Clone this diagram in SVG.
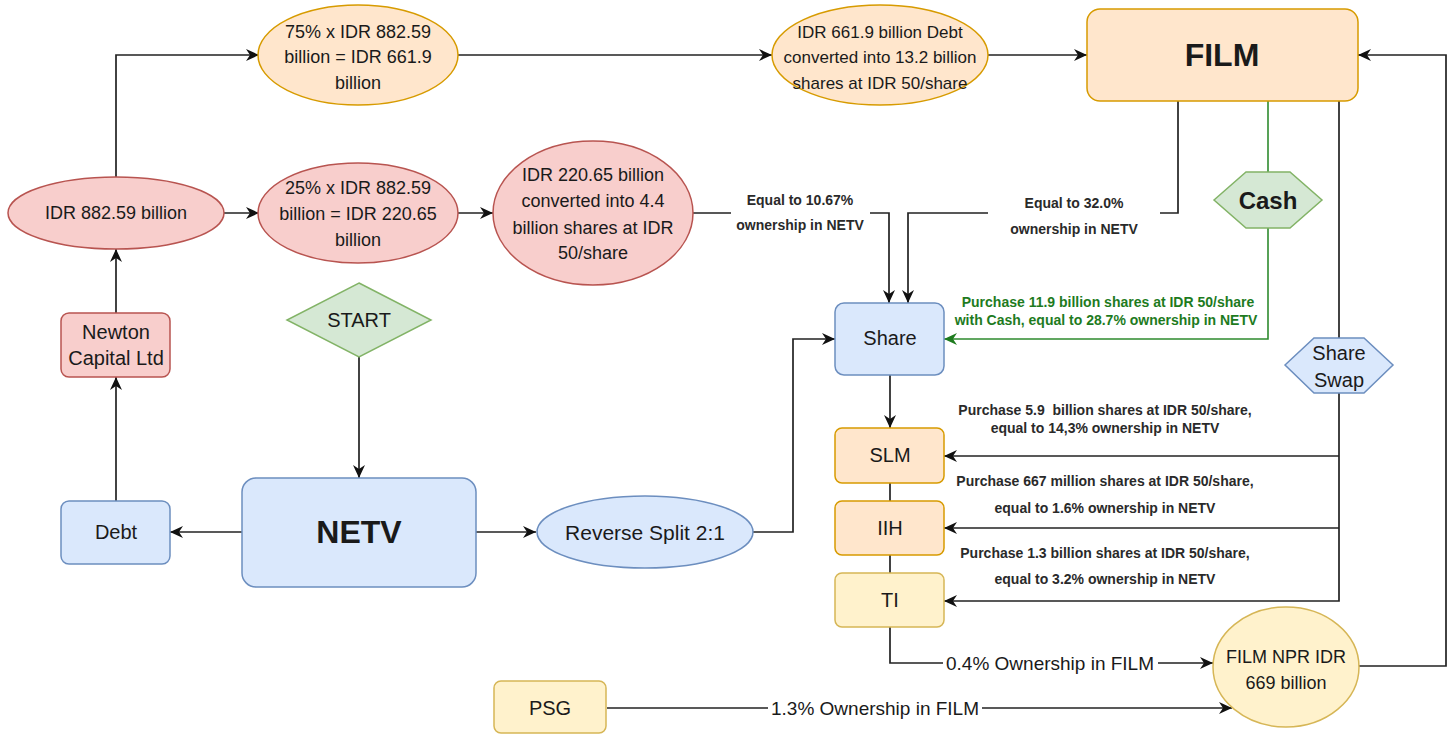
<svg xmlns="http://www.w3.org/2000/svg" width="1452" height="735" viewBox="0 0 1452 735">
<style>
text{font-family:"Liberation Sans",Arial,sans-serif;fill:#1a1a1a;text-anchor:middle;dominant-baseline:central;white-space:pre}
.red{fill:#f8cecc;stroke:#b85450;stroke-width:1.5}
.org{fill:#ffe6cc;stroke:#d79b00;stroke-width:1.5}
.yel{fill:#fff2cc;stroke:#d6b656;stroke-width:1.5}
.grn{fill:#d5e8d4;stroke:#82b366;stroke-width:1.5}
.blu{fill:#dae8fc;stroke:#6c8ebf;stroke-width:1.5}
.t18{font-size:18px}
.t17{font-size:17px}
.t20{font-size:20px}
.big{font-size:32px;font-weight:bold}
.lbl{font-size:14px;font-weight:bold;fill:#2a2a2a}
.glbl{font-size:14px;font-weight:bold;fill:#1e7b1e}
.olbl{font-size:19px}
.e{fill:none;stroke:#222;stroke-width:1.7}
.g{fill:none;stroke:#2e8b2e;stroke-width:1.6}
.bg{fill:#fff;stroke:none}
</style>
<defs>
<marker id="a" markerUnits="userSpaceOnUse" markerWidth="14" markerHeight="12" refX="13" refY="6" orient="auto"><path d="M0,0 L13,6 L0,12 L4,6 Z" fill="#111"/></marker>
<marker id="ag" markerUnits="userSpaceOnUse" markerWidth="14" markerHeight="12" refX="13" refY="6" orient="auto"><path d="M0,0 L13,6 L0,12 L4,6 Z" fill="#1e7b1e"/></marker>
</defs>
<rect width="1452" height="735" fill="#fff"/>

<g id="connectors">
<path class="e" d="M116,177 V55 H259" marker-end="url(#a)"/>
<path class="e" d="M224,213 H259" marker-end="url(#a)"/>
<path class="e" d="M458,213 H493" marker-end="url(#a)"/>
<path class="e" d="M458,55 H772" marker-end="url(#a)"/>
<path class="e" d="M988,55 H1087" marker-end="url(#a)"/>
<path class="e" d="M693,213 H889 V303" marker-end="url(#a)"/>
<path class="e" d="M1178,101 V213 H908 V303" marker-end="url(#a)"/>
<path class="g" d="M1268,101 V172"/>
<path class="g" d="M1268,228 V339 H944" marker-end="url(#ag)"/>
<path class="e" d="M890,375 V428" marker-end="url(#a)"/>
<path class="e" d="M890,483 V501"/>
<path class="e" d="M890,555 V573"/>
<path class="e" d="M1339,101 V338"/>
<path class="e" d="M1339,393 V601 H944" marker-end="url(#a)"/>
<path class="e" d="M1339,456 H944" marker-end="url(#a)"/>
<path class="e" d="M1339,528 H944" marker-end="url(#a)"/>
<path class="e" d="M1358,666 H1446 V55 H1358" marker-end="url(#a)"/>
<path class="e" d="M890,627 V663 H1213" marker-end="url(#a)"/>
<path class="e" d="M607,708 H1232" marker-end="url(#a)"/>
<path class="e" d="M359,357 V478" marker-end="url(#a)"/>
<path class="e" d="M242,532 H170" marker-end="url(#a)"/>
<path class="e" d="M116,501 V377" marker-end="url(#a)"/>
<path class="e" d="M116,313 V249" marker-end="url(#a)"/>
<path class="e" d="M476,532 H536" marker-end="url(#a)"/>
<path class="e" d="M753,532 H793 V339 H835" marker-end="url(#a)"/>

<rect class="bg" x="731" y="188" width="139" height="50"/>
<text class="lbl" x="800" y="200">Equal to 10.67%</text>
<text class="lbl" x="800" y="225">ownership in NETV</text>
<rect class="bg" x="988" y="190" width="172" height="52"/>
<text class="lbl" x="1074" y="203">Equal to 32.0%</text>
<text class="lbl" x="1074" y="229">ownership in NETV</text>
<text class="glbl" x="1108" y="302">Purchase 11.9 billion shares at IDR 50/share</text>
<text class="glbl" x="1106" y="320">with Cash, equal to 28.7% ownership in NETV</text>
<text class="lbl" x="1105" y="410" xml:space="preserve">Purchase 5.9  billion shares at IDR 50/share,</text>
<text class="lbl" x="1105" y="428">equal to 14,3% ownership in NETV</text>
<text class="lbl" x="1105" y="481">Purchase 667 million shares at IDR 50/share,</text>
<text class="lbl" x="1105" y="508">equal to 1.6% ownership in NETV</text>
<text class="lbl" x="1105" y="553">Purchase 1.3 billion shares at IDR 50/share,</text>
<text class="lbl" x="1105" y="579">equal to 3.2% ownership in NETV</text>
<rect class="bg" x="943" y="652" width="215" height="22"/>
<text class="olbl" x="1050" y="663">0.4% Ownership in FILM</text>
<rect class="bg" x="768" y="697" width="214" height="22"/>
<text class="olbl" x="875" y="708">1.3% Ownership in FILM</text>
</g>

<g id="n75"><ellipse class="org" cx="358" cy="55" rx="100" ry="50"/><text class="t18" x="358" y="32">75% x IDR 882.59</text><text class="t18" x="358" y="57">billion = IDR 661.9</text><text class="t18" x="358" y="83">billion</text></g>
<g id="n882"><ellipse class="red" cx="116" cy="213" rx="108" ry="36"/><text class="t18" x="116" y="213">IDR 882.59 billion</text></g>
<g id="n25"><ellipse class="red" cx="358" cy="213" rx="100" ry="50"/><text class="t18" x="358" y="188">25% x IDR 882.59</text><text class="t18" x="358" y="214">billion = IDR 220.65</text><text class="t18" x="358" y="240">billion</text></g>
<g id="n220"><ellipse class="red" cx="593" cy="213" rx="100" ry="72"/><text class="t18" x="593" y="175">IDR 220.65 billion</text><text class="t18" x="593" y="201">converted into 4.4</text><text class="t18" x="593" y="228">billion shares at IDR</text><text class="t18" x="593" y="253">50/share</text></g>
<g id="n661"><ellipse class="org" cx="880" cy="55" rx="108" ry="50"/><text class="t17" x="880" y="32">IDR 661.9 billion Debt</text><text class="t17" x="880" y="57">converted into 13.2 billion</text><text class="t17" x="880" y="83">shares at IDR 50/share</text></g>
<g id="film"><rect class="org" x="1087" y="9" width="271" height="92" rx="13"/><text class="big" x="1222" y="55">FILM</text></g>
<g id="cash"><polygon class="grn" points="1214,200 1246,172 1290,172 1322,200 1290,228 1246,228"/><text x="1268" y="200" style="font-size:24px;font-weight:bold">Cash</text></g>
<g id="swap"><polygon class="blu" points="1285,365 1314,338 1364,338 1393,365 1364,393 1314,393"/><text class="t20" x="1339" y="353">Share</text><text class="t20" x="1339" y="380">Swap</text></g>
<g id="newton"><rect class="red" x="61" y="313" width="109" height="64" rx="8"/><text class="t20" x="116" y="332">Newton</text><text class="t20" x="116" y="358">Capital Ltd</text></g>
<g id="start"><polygon class="grn" points="359,283 431,320 359,357 287,320"/><text class="t20" x="359" y="320">START</text></g>
<g id="debt"><rect class="blu" x="61" y="501" width="109" height="63" rx="8"/><text class="t20" x="116" y="532">Debt</text></g>
<g id="netv"><rect class="blu" x="242" y="478" width="234" height="109" rx="14"/><text class="big" x="359" y="532">NETV</text></g>
<g id="rsplit"><ellipse class="blu" cx="645" cy="532" rx="108" ry="36"/><text x="645" y="532" style="font-size:21px">Reverse Split 2:1</text></g>
<g id="share"><rect class="blu" x="835" y="303" width="109" height="72" rx="9"/><text class="t20" x="890" y="338">Share</text></g>
<g id="slm"><rect class="org" x="835" y="428" width="109" height="55" rx="7"/><text class="t20" x="890" y="455">SLM</text></g>
<g id="iih"><rect class="org" x="835" y="501" width="109" height="54" rx="7"/><text class="t20" x="890" y="528">IIH</text></g>
<g id="ti"><rect class="yel" x="835" y="573" width="109" height="54" rx="7"/><text class="t20" x="890" y="600">TI</text></g>
<g id="npr"><ellipse class="yel" cx="1286" cy="667" rx="73" ry="60"/><text class="t18" x="1286" y="657">FILM NPR IDR</text><text class="t18" x="1286" y="683">669 billion</text></g>
<g id="psg"><rect class="yel" x="494" y="681" width="112" height="52" rx="7"/><text class="t20" x="550" y="708">PSG</text></g>
</svg>
